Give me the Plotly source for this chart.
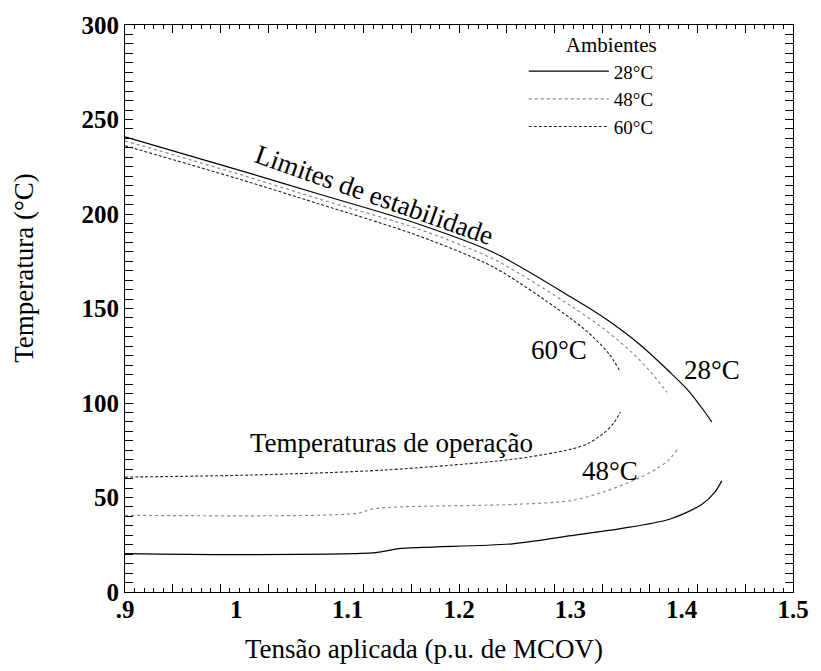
import plotly.graph_objects as go

# ---- data ----
stab28_x = [0.90, 1.0, 1.074, 1.162, 1.232, 1.302, 1.331, 1.361, 1.390, 1.405, 1.419, 1.427]
stab28_y = [240.8, 223.6, 210.6, 195.0, 179.4, 155.5, 144.8, 131.6, 116.0, 107.2, 96.7, 90.0]

stab48_x = [0.90, 1.0, 1.074, 1.162, 1.232, 1.302, 1.331, 1.355, 1.372, 1.387]
stab48_y = [238.7, 221.5, 208.0, 192.4, 175.8, 150.8, 138.8, 126.9, 116.5, 105.6]

stab60_x = [0.90, 1.0, 1.074, 1.162, 1.232, 1.302, 1.320, 1.335, 1.344]
stab60_y = [236.1, 218.9, 205.4, 188.8, 171.6, 144.0, 135.2, 125.8, 117.5]

op28_x = [0.90, 1.0, 1.125, 1.146, 1.248, 1.301, 1.345, 1.389, 1.418, 1.430, 1.436]
op28_y = [20.3, 19.8, 20.8, 22.9, 25.5, 29.8, 33.5, 38.5, 46.3, 53.0, 58.8]

op48_x = [0.90, 1.108, 1.125, 1.248, 1.301, 1.330, 1.360, 1.377, 1.389, 1.396]
op48_y = [40.6, 41.6, 44.2, 46.3, 48.4, 53.0, 59.8, 65.0, 70.2, 75.4]

op60_x = [0.90, 1.014, 1.132, 1.248, 1.301, 1.316, 1.330, 1.339, 1.345]
op60_y = [60.8, 61.9, 64.5, 70.2, 75.6, 78.6, 84.0, 89.4, 95.2]

x_tick_vals = [0.9, 1.0, 1.1, 1.2, 1.3, 1.4, 1.5]
x_tick_text = [".9", "1", "1.1", "1.2", "1.3", "1.4", "1.5"]
y_tick_vals = [0, 25, 50, 75, 100, 125, 150, 175, 200, 225, 250, 275, 300]
y_tick_text = ["0", "", "50", "", "100", "", "150", "", "200", "", "250", "", "300"]

SERIF = "Liberation Serif, Times New Roman, serif"

styles = {
    "28°C": dict(color="#000000", width=1.2, dash="solid"),
    "48°C": dict(color="#8a8a8a", width=1.2, dash="dot"),
    "60°C": dict(color="#222222", width=1.1, dash="3px,2px"),
}

fig = go.Figure()
for name, sx, sy, ox, oy in [
    ("28°C", stab28_x, stab28_y, op28_x, op28_y),
    ("48°C", stab48_x, stab48_y, op48_x, op48_y),
    ("60°C", stab60_x, stab60_y, op60_x, op60_y),
]:
    fig.add_trace(go.Scatter(x=sx, y=sy, mode="lines", name=name,
                             line=dict(shape="spline", smoothing=0.8, **styles[name]),
                             legendgroup=name, showlegend=True))
    fig.add_trace(go.Scatter(x=ox, y=oy, mode="lines", name=name,
                             line=dict(shape="spline", smoothing=0.8, **styles[name]),
                             legendgroup=name, showlegend=False))

# invisible trace carrying the label axis
fig.add_trace(go.Scatter(x=[None], y=[None], xaxis="x2", showlegend=False, hoverinfo="skip"))

axis_common = dict(showline=True, linecolor="black", linewidth=1.2, showgrid=False, zeroline=False,
                   mirror="allticks", ticks="inside", tickcolor="black", tickwidth=1)

fig.update_layout(
    width=821, height=671,
    margin=dict(l=125, r=14, t=15, b=79),
    paper_bgcolor="white", plot_bgcolor="white",
    font=dict(family=SERIF, color="black"),
    xaxis=dict(range=[0.9, 1.5], tickmode="linear", tick0=0.9, dtick=0.6 / 14, ticklen=8,
               showticklabels=False,
               minor=dict(ticks="inside", dtick=0.6 / 70, tick0=0.9, ticklen=4, tickcolor="black"),
               **axis_common),
    xaxis2=dict(range=[0.9, 1.5], overlaying="x", side="bottom", tickmode="array",
                tickvals=x_tick_vals, ticktext=x_tick_text, ticks="", showline=False, showgrid=False,
                zeroline=False, ticklabeloverflow="allow",
                tickfont=dict(size=25, family=SERIF, weight="bold")),
    yaxis=dict(range=[0, 300], tickmode="array", tickvals=y_tick_vals, ticktext=y_tick_text, ticklen=8,
               tickfont=dict(size=25, family=SERIF, weight="bold"),
               minor=dict(ticks="inside", dtick=5, tick0=0, ticklen=4, tickcolor="black"),
               **axis_common),
    legend=dict(title=dict(text="Ambientes", font=dict(size=21, family=SERIF), side="top right"),
                font=dict(size=19, family=SERIF), x=0.597, y=1.0, xanchor="left", yanchor="top",
                bgcolor="rgba(0,0,0,0)", tracegroupgap=0, itemwidth=80),
    showlegend=True,
)

title_font = dict(size=27, family=SERIF, color="black")
fig.add_annotation(xref="paper", yref="paper", x=0.447, y=-0.1005, text="Tensão aplicada (p.u. de MCOV)",
                   showarrow=False, font=title_font, xanchor="center", yanchor="middle")
fig.add_annotation(xref="paper", yref="paper", x=-0.151, y=0.572, text="Temperatura (°C)", textangle=-90,
                   showarrow=False, font=title_font, xanchor="center", yanchor="middle")

ann_font = dict(size=27, family=SERIF, color="black")
fig.add_annotation(x=1.124, y=210, text="Limites de estabilidade", textangle=19.5, showarrow=False, font=ann_font)
fig.add_annotation(x=1.290, y=128, text="60°C", showarrow=False, font=ann_font)
fig.add_annotation(x=1.427, y=117.5, text="28°C", showarrow=False, font=ann_font)
fig.add_annotation(x=1.336, y=64, text="48°C", showarrow=False, font=ann_font)
fig.add_annotation(x=1.139, y=79, text="Temperaturas de operação", showarrow=False, font=ann_font)

fig.write_html("out.html")
